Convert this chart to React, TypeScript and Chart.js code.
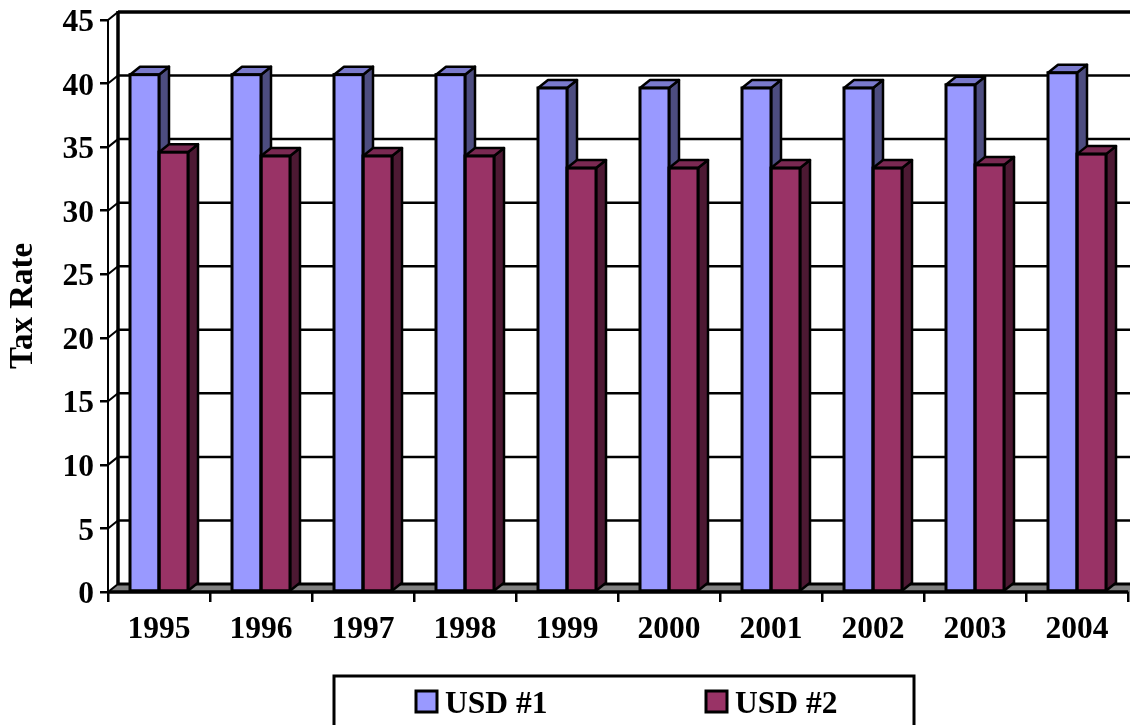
import React, { useEffect, useRef } from "react";
import { Chart, registerables } from "chart.js";

Chart.register(...registerables);

const years = ["1995", "1996", "1997", "1998", "1999", "2000", "2001", "2002", "2003", "2004"];
const usd1 = [40.7, 40.7, 40.7, 40.7, 39.65, 39.65, 39.65, 39.65, 39.9, 40.85];
const usd2 = [34.6, 34.3, 34.3, 34.3, 33.35, 33.35, 33.35, 33.35, 33.6, 34.45];
const usd1Label = "USD #1";
const usd2Label = "USD #2";
const yMin = 0;
const yMax = 45;
const yStep = 5;
const yTitle = "Tax Rate";

const FONT = "'Liberation Serif', 'Times New Roman', serif";
const FONT_SIZE = 31.5;
const DX = 10;
const DY = -8;
const sideColors: Record<string, { top: string; side: string }> = {
  [usd1Label]: { top: "#7A7ACC", side: "#4D4D80" },
  [usd2Label]: { top: "#7A2952", side: "#4D1933" },
};

const wallPlugin = {
  id: "wall3d",
  beforeDatasetsDraw(chart: any) {
    const { ctx, chartArea, scales } = chart;
    const { left, right, top, bottom } = chartArea;
    const y = scales.y;
    const w = chart.width;
    ctx.save();
    ctx.strokeStyle = "#000";
    ctx.lineCap = "butt";
    // floor
    ctx.beginPath();
    ctx.moveTo(left, bottom);
    ctx.lineTo(left + DX, bottom + DY);
    ctx.lineTo(right + DX, bottom + DY);
    ctx.lineTo(right, bottom);
    ctx.closePath();
    ctx.fillStyle = "#808080";
    ctx.fill();
    ctx.lineWidth = 3;
    ctx.beginPath();
    ctx.moveTo(left + DX, bottom + DY);
    ctx.lineTo(w, bottom + DY);
    ctx.stroke();
    // back wall grid + side wall diagonals
    y.ticks.forEach((t: any) => {
      const py = y.getPixelForValue(t.value);
      ctx.lineWidth = t.value === yMax ? 3.5 : 2.5;
      if (t.value !== yMin) {
        ctx.beginPath();
        ctx.moveTo(left + DX, py + DY);
        ctx.lineTo(w, py + DY);
        ctx.stroke();
      }
      ctx.lineWidth = 2;
      ctx.beginPath();
      ctx.moveTo(left, py);
      ctx.lineTo(left + DX, py + DY);
      ctx.stroke();
    });
    // back-left vertical
    ctx.lineWidth = 3.5;
    ctx.beginPath();
    ctx.moveTo(left + DX, top + DY - 1);
    ctx.lineTo(left + DX, bottom + DY);
    ctx.stroke();
    // front-bottom edge
    ctx.lineWidth = 3.5;
    ctx.beginPath();
    ctx.moveTo(left, bottom);
    ctx.lineTo(right, bottom);
    ctx.stroke();
    // 3D faces, left series first so the right series' top overlaps its side
    ctx.lineWidth = 2.5;
    ctx.lineJoin = "round";
    chart.data.datasets.forEach((ds: any, i: number) => {
      const c = sideColors[ds.label];
      chart.getDatasetMeta(i).data.forEach((el: any) => {
        const p = el.getProps(["x", "y", "base", "width"], true);
        const l = p.x - p.width / 2;
        const r = p.x + p.width / 2;
        ctx.fillStyle = c.side;
        ctx.beginPath();
        ctx.moveTo(r, p.y);
        ctx.lineTo(r + DX, p.y + DY);
        ctx.lineTo(r + DX, p.base + DY);
        ctx.lineTo(r, p.base);
        ctx.closePath();
        ctx.fill();
        ctx.stroke();
        ctx.fillStyle = c.top;
        ctx.beginPath();
        ctx.moveTo(l, p.y);
        ctx.lineTo(l + DX, p.y + DY);
        ctx.lineTo(r + DX, p.y + DY);
        ctx.lineTo(r, p.y);
        ctx.closePath();
        ctx.fill();
        ctx.stroke();
      });
    });
    ctx.restore();
  },
  afterDatasetsDraw(chart: any) {
    const { ctx } = chart;
    ctx.save();
    ctx.strokeStyle = "#000";
    ctx.lineWidth = 3;
    chart.data.datasets.forEach((_: any, i: number) => {
      chart.getDatasetMeta(i).data.forEach((el: any) => {
        const p = el.getProps(["x", "y", "base", "width"], true);
        ctx.strokeRect(p.x - p.width / 2, p.y, p.width, p.base - p.y);
      });
    });
    ctx.restore();
  },
  afterDraw(chart: any) {
    const { ctx } = chart;
    ctx.save();
    ctx.strokeStyle = "#000";
    ctx.lineWidth = 3;
    ctx.strokeRect(334, 676, 580, 70);
    ctx.font = `bold ${FONT_SIZE}px ${FONT}`;
    ctx.textBaseline = "alphabetic";
    ctx.textAlign = "left";
    const starts = [416, 706];
    chart.data.datasets.forEach((ds: any, i: number) => {
      ctx.fillStyle = ds.backgroundColor;
      ctx.lineWidth = 3;
      ctx.fillRect(starts[i], 691, 21, 21);
      ctx.strokeRect(starts[i], 691, 21, 21);
      ctx.fillStyle = "#000";
      ctx.fillText(ds.label, starts[i] + 29, 713);
    });
    ctx.restore();
  },
};

export default function App() {
  const ref = useRef<HTMLCanvasElement>(null);
  useEffect(() => {
    const tickFont = { family: FONT, size: FONT_SIZE, weight: "bold" as const };
    const chart = new Chart(ref.current!, {
      type: "bar",
      data: {
        labels: years,
        datasets: [
          { label: usd1Label, data: usd1, backgroundColor: "#9999FF", borderWidth: 0 },
          { label: usd2Label, data: usd2, backgroundColor: "#993366", borderWidth: 0 },
        ],
      },
      options: {
        animation: false,
        responsive: false,
        layout: { autoPadding: false, padding: { top: 20, right: 2, left: 0, bottom: 0 } },
        datasets: { bar: { categoryPercentage: 58 / 102, barPercentage: 1 } },
        plugins: { legend: { display: false }, tooltip: { enabled: false } },
        scales: {
          x: {
            grid: { drawOnChartArea: false, drawTicks: true, tickLength: 10, color: "#000", lineWidth: 2.5 },
            border: { display: true, color: "#000", width: 2 },
            ticks: { color: "#000", font: tickFont, padding: 9, maxRotation: 0, autoSkip: false },
            afterFit: (s: any) => { s.height = 133; s.paddingLeft = 0; s.paddingRight = 0; },
          },
          y: {
            min: yMin,
            max: yMax,
            grid: { drawOnChartArea: false, drawTicks: true, tickLength: 8, color: "#000", lineWidth: 2.5 },
            border: { display: true, color: "#000", width: 2 },
            ticks: { color: "#000", font: tickFont, stepSize: yStep, padding: 6, labelOffset: 3 },
            title: { display: true, text: yTitle, color: "#000", font: { ...tickFont, size: 33 }, padding: 4 },
            afterFit: (s: any) => { s.width = 108; s.paddingTop = 0; s.paddingBottom = 0; },
          },
        },
      },
      plugins: [wallPlugin],
    } as any);
    return () => chart.destroy();
  }, []);
  return (
    <canvas
      ref={ref}
      width={1130}
      height={725}
      style={{ position: "absolute", left: 0, top: 0, width: 1130, height: 725, display: "block" }}
    />
  );
}
